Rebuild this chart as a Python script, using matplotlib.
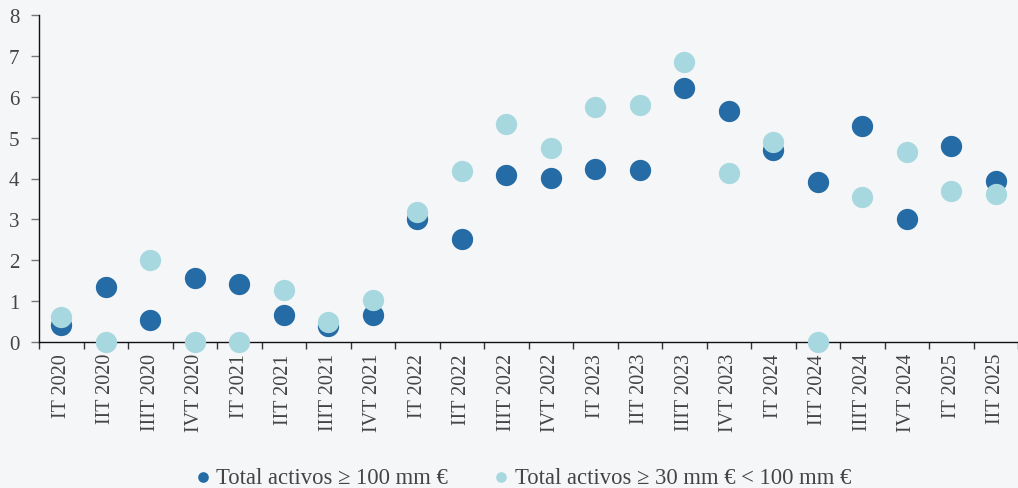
import numpy as np
import matplotlib
matplotlib.use("Agg")
import matplotlib.pyplot as plt

# quarterly values, two size groups
quarters = ["IT 2020", "IIT 2020", "IIIT 2020", "IVT 2020",
            "IT 2021", "IIT 2021", "IIIT 2021", "IVT 2021",
            "IT 2022", "IIT 2022", "IIIT 2022", "IVT 2022",
            "IT 2023", "IIT 2023", "IIIT 2023", "IVT 2023",
            "IT 2024", "IIT 2024", "IIIT 2024", "IVT 2024",
            "IT 2025", "IIT 2025"]
big = [0.42, 1.35, 0.54, 1.57, 1.42, 0.66, 0.40, 0.66,
       3.00, 2.52, 4.08, 4.01, 4.23, 4.20, 6.21, 5.65,
       4.69, 3.91, 5.28, 3.00, 4.79, 3.94]
mid = [0.61, 0.0, 2.00, 0.0, 0.0, 1.27, 0.49, 1.03,
       3.18, 4.18, 5.33, 4.74, 5.75, 5.79, 6.85, 4.13,
       4.89, 0.0, 3.55, 4.65, 3.69, 3.62]
names = ["Total activos ≥ 100 mm €", "Total activos ≥ 30 mm € < 100 mm €"]

bg = "#f5f6f8"
dark = "#256ba5"
light = "#a8d8df"
txt = "#444444"

plt.rcParams['font.family'] = ['Liberation Serif', 'DejaVu Serif']

fig = plt.figure(figsize=(10.18, 4.89), dpi=100, facecolor=bg)
ax = fig.add_axes([39/1018, 1 - 343/489, 1 - 39/1018, (343 - 16)/489])
ax.set_facecolor(bg)

x = np.arange(len(quarters))
ax.scatter(x, big, s=235, color=dark, lw=0, clip_on=False, zorder=3, label=names[0])
ax.scatter(x, mid, s=235, color=light, lw=0, clip_on=False, zorder=4, label=names[1])

ax.set_xlim(-0.5, len(quarters) - 0.5)
ax.set_ylim(0, 8)
ax.set_yticks(range(0, 9))
ax.set_xticks(x)
ax.set_xticklabels(quarters, rotation=90, fontsize=14.5, color=txt)
ax.set_xticks(np.arange(-0.5, len(quarters)), minor=True)
ax.tick_params(axis='x', which='major', length=0, pad=8)
ax.tick_params(axis='x', which='minor', length=5, color='#333333', width=1)
ax.tick_params(axis='y', length=6, color='#777777', width=1, labelsize=15, labelcolor=txt, pad=8)

for side in ['top', 'right']:
    ax.spines[side].set_visible(False)
for side in ['left', 'bottom']:
    ax.spines[side].set_color('#111111')
    ax.spines[side].set_linewidth(1)

fig.legend(loc='lower center', bbox_to_anchor=(0.512, -0.042), ncol=2, frameon=False,
           fontsize=16.3, labelcolor=txt, markerscale=0.5, handlelength=1.0,
           handletextpad=0.1, columnspacing=1.85, scatterpoints=1)

fig.savefig("out.png", dpi=100, facecolor=bg)
